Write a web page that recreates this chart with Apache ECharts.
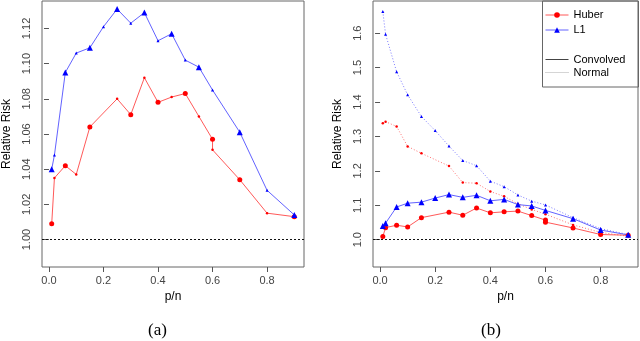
<!DOCTYPE html>
<html>
<head>
<meta charset="utf-8">
<script src="https://cdn.jsdelivr.net/npm/echarts@6/dist/echarts.min.js"></script>
<style>
	html, body { margin: 0; padding: 0; background: #fff; }
	#chart { width: 640px; height: 341px; }
</style>
</head>
<body>
<div id="chart"></div>
<script>
	'use strict';

	/* data */
	var huberX = [0.01, 0.02, 0.06, 0.1, 0.15, 0.25, 0.3, 0.35, 0.4, 0.45, 0.5, 0.55, 0.6, 0.6, 0.7, 0.8, 0.9];
	var huberConv = [1.009, 1.035, 1.042, 1.037, 1.064, 1.080, 1.071, 1.092, 1.078, 1.081, 1.083, 1.070, 1.057, 1.051, 1.034, 1.015, 1.013];
	var l1X = [0.01, 0.02, 0.06, 0.1, 0.15, 0.2, 0.25, 0.3, 0.35, 0.4, 0.45, 0.5, 0.55, 0.6, 0.7, 0.8, 0.9];
	var l1Conv = [1.040, 1.048, 1.095, 1.106, 1.109, 1.121, 1.131, 1.123, 1.129, 1.113, 1.117, 1.102, 1.098, 1.085, 1.061, 1.028, 1.014];

	var huberNormX = [0.01, 0.02, 0.06, 0.1, 0.15, 0.25, 0.3, 0.35, 0.4, 0.45, 0.5, 0.55, 0.6, 0.7, 0.8, 0.9];
	var huberNorm = [1.338, 1.343, 1.329, 1.271, 1.251, 1.214, 1.166, 1.164, 1.140, 1.126, 1.104, 1.088, 1.074, 1.043, 1.021, 1.010];
	var l1Norm = [1.663, 1.597, 1.488, 1.421, 1.358, 1.317, 1.272, 1.230, 1.215, 1.170, 1.154, 1.130, 1.112, 1.101, 1.064, 1.032, 1.015];

	var xTicks = [0, 0.2, 0.4, 0.6, 0.8];
	var yTicksA = [1.00, 1.02, 1.04, 1.06, 1.08, 1.10, 1.12];
	var yTicksB = [1.0, 1.1, 1.2, 1.3, 1.4, 1.5, 1.6];

	/* which points in panel (a) carry the large marker (by index) */
	var huberBigIdx = [0, 2, 4, 6, 8, 10, 12, 14, 16];
	var l1BigIdx = [0, 2, 4, 6, 8, 10, 12, 14, 16];

	function pairs(xs, ys) {
		return xs.map(function (x, i) { return [x, ys[i]]; });
	}

	var RED = '#ff0000', BLUE = '#0000ff';
	var REDLINE = 'rgba(255,60,60,0.85)', BLUELINE = 'rgba(70,70,255,0.85)';
	var FONT = 'Liberation Sans';

	function xAxis(gridIndex) {
		return {
			type: 'value', gridIndex: gridIndex, min: -0.0256, max: 0.9356,
			name: 'p/n', nameLocation: 'middle', nameGap: 24,
			nameTextStyle: { fontFamily: FONT, fontSize: 12, color: '#000' },
			axisLine: { show: false },
			splitLine: { show: false },
			axisTick: { show: true, length: 5, customValues: xTicks, lineStyle: { color: '#555' } },
			axisLabel: {
				customValues: xTicks, margin: 8, fontFamily: FONT, fontSize: 11, color: '#444',
				formatter: function (v) { return v.toFixed(1); }
			}
		};
	}

	function yAxis(gridIndex, min, max, ticks, digits) {
		return {
			type: 'value', gridIndex: gridIndex, min: min, max: max,
			name: 'Relative Risk', nameLocation: 'middle', nameGap: 29,
			nameTextStyle: { fontFamily: FONT, fontSize: 12, color: '#000' },
			axisLine: { show: false },
			splitLine: { show: false },
			axisTick: { show: true, length: 5, customValues: ticks, lineStyle: { color: '#555' } },
			axisLabel: {
				customValues: ticks, rotate: 90, margin: 10, fontFamily: FONT, fontSize: 11, color: '#444',
				formatter: function (v) { return v.toFixed(digits); }
			}
		};
	}

	var refLine = {
		silent: true, symbol: 'none', label: { show: false },
		lineStyle: { color: '#111', type: [2, 2], width: 1 },
		data: [{ yAxis: 1 }]
	};

	var series = [
		/* panel (a) */
		{
			name: 'Huber', type: 'line', xAxisIndex: 0, yAxisIndex: 0,
			data: pairs(huberX, huberConv), symbol: 'circle', showAllSymbol: true,
			symbolSize: function (v, p) { return huberBigIdx.indexOf(p.dataIndex) >= 0 ? 5 : 2.5; },
			itemStyle: { color: RED }, lineStyle: { color: REDLINE, width: 1 },
			markLine: refLine, z: 3
		},
		{
			name: 'L1', type: 'line', xAxisIndex: 0, yAxisIndex: 0,
			data: pairs(l1X, l1Conv), symbol: 'triangle', showAllSymbol: true,
			symbolSize: function (v, p) { return l1BigIdx.indexOf(p.dataIndex) >= 0 ? 6 : 3; },
			itemStyle: { color: BLUE }, lineStyle: { color: BLUELINE, width: 1 }, z: 3
		},
		/* panel (b) */
		{
			name: 'Huber N', type: 'line', xAxisIndex: 1, yAxisIndex: 1,
			data: pairs(huberNormX, huberNorm), symbol: 'circle', symbolSize: 2.5, showAllSymbol: true,
			itemStyle: { color: RED }, lineStyle: { color: 'rgba(255,80,80,0.8)', width: 1, type: [1, 2] }
		},
		{
			name: 'L1 N', type: 'line', xAxisIndex: 1, yAxisIndex: 1,
			data: pairs(l1X, l1Norm), symbol: 'triangle', symbolSize: 3, showAllSymbol: true,
			itemStyle: { color: BLUE }, lineStyle: { color: 'rgba(90,90,255,0.8)', width: 1, type: [1, 2] }
		},
		{
			name: 'Huber', type: 'line', xAxisIndex: 1, yAxisIndex: 1,
			data: pairs(huberX, huberConv), symbol: 'circle', symbolSize: 5, showAllSymbol: true,
			itemStyle: { color: RED }, lineStyle: { color: REDLINE, width: 1 },
			markLine: refLine, z: 3
		},
		{
			name: 'L1', type: 'line', xAxisIndex: 1, yAxisIndex: 1,
			data: pairs(l1X, l1Conv), symbol: 'triangle', symbolSize: 6, showAllSymbol: true,
			itemStyle: { color: BLUE }, lineStyle: { color: BLUELINE, width: 1 }, z: 3
		},
		/* legend-only entries */
		{
			name: 'Convolved', type: 'line', xAxisIndex: 1, yAxisIndex: 1, data: [],
			symbol: 'none', itemStyle: { color: 'rgba(0,0,0,0)' }, lineStyle: { color: '#444', width: 1 }
		},
		{
			name: 'Normal', type: 'line', xAxisIndex: 1, yAxisIndex: 1, data: [],
			symbol: 'none', itemStyle: { color: 'rgba(0,0,0,0)' }, lineStyle: { color: '#aaa', width: 1, type: [1, 1] }
		}
	];

	var legendText = { fontFamily: FONT, fontSize: 11, color: '#000', lineHeight: 15 };

	var option = {
		animation: false,
		backgroundColor: '#fff',
		grid: [
			{ left: 39, top: 1, width: 265, height: 266, show: true, borderColor: '#666', borderWidth: 1, backgroundColor: 'transparent' },
			{ left: 373, top: 1, width: 265, height: 266, show: true, borderColor: '#666', borderWidth: 1, backgroundColor: 'transparent' }
		],
		xAxis: [xAxis(0), xAxis(1)],
		yAxis: [
			yAxis(0, 0.9844, 1.1356, yTicksA, 2),
			yAxis(1, 0.9206, 1.6936, yTicksB, 1)
		],
		legend: [
			{
				data: ['Huber', 'L1'], orient: 'vertical', left: 545, top: 7.5, padding: 0,
				itemWidth: 23, itemHeight: 7, itemGap: 0, selectedMode: false, textStyle: legendText,
				lineStyle: { width: 1 }
			},
			{
				data: ['Convolved', 'Normal'], orient: 'vertical', left: 545, top: 52, padding: 0,
				itemWidth: 23, itemHeight: 7, itemGap: -2, selectedMode: false, textStyle: legendText,
				lineStyle: { width: 1 }
			}
		],
		graphic: [
			{
				type: 'rect', shape: { x: 542.5, y: 1, width: 96, height: 86 },
				style: { fill: 'none', stroke: '#666', lineWidth: 1 }, z: 10
			},
			{
				type: 'text', left: 148, top: 322,
				style: { text: '(a)', font: '17px "Liberation Serif"', fill: '#000' }
			},
			{
				type: 'text', left: 481, top: 322,
				style: { text: '(b)', font: '17px "Liberation Serif"', fill: '#000' }
			}
		],
		series: series
	};

	var chart = echarts.init(document.getElementById('chart'), null, { renderer: 'canvas' });
	chart.setOption(option);
</script>
</body>
</html>
